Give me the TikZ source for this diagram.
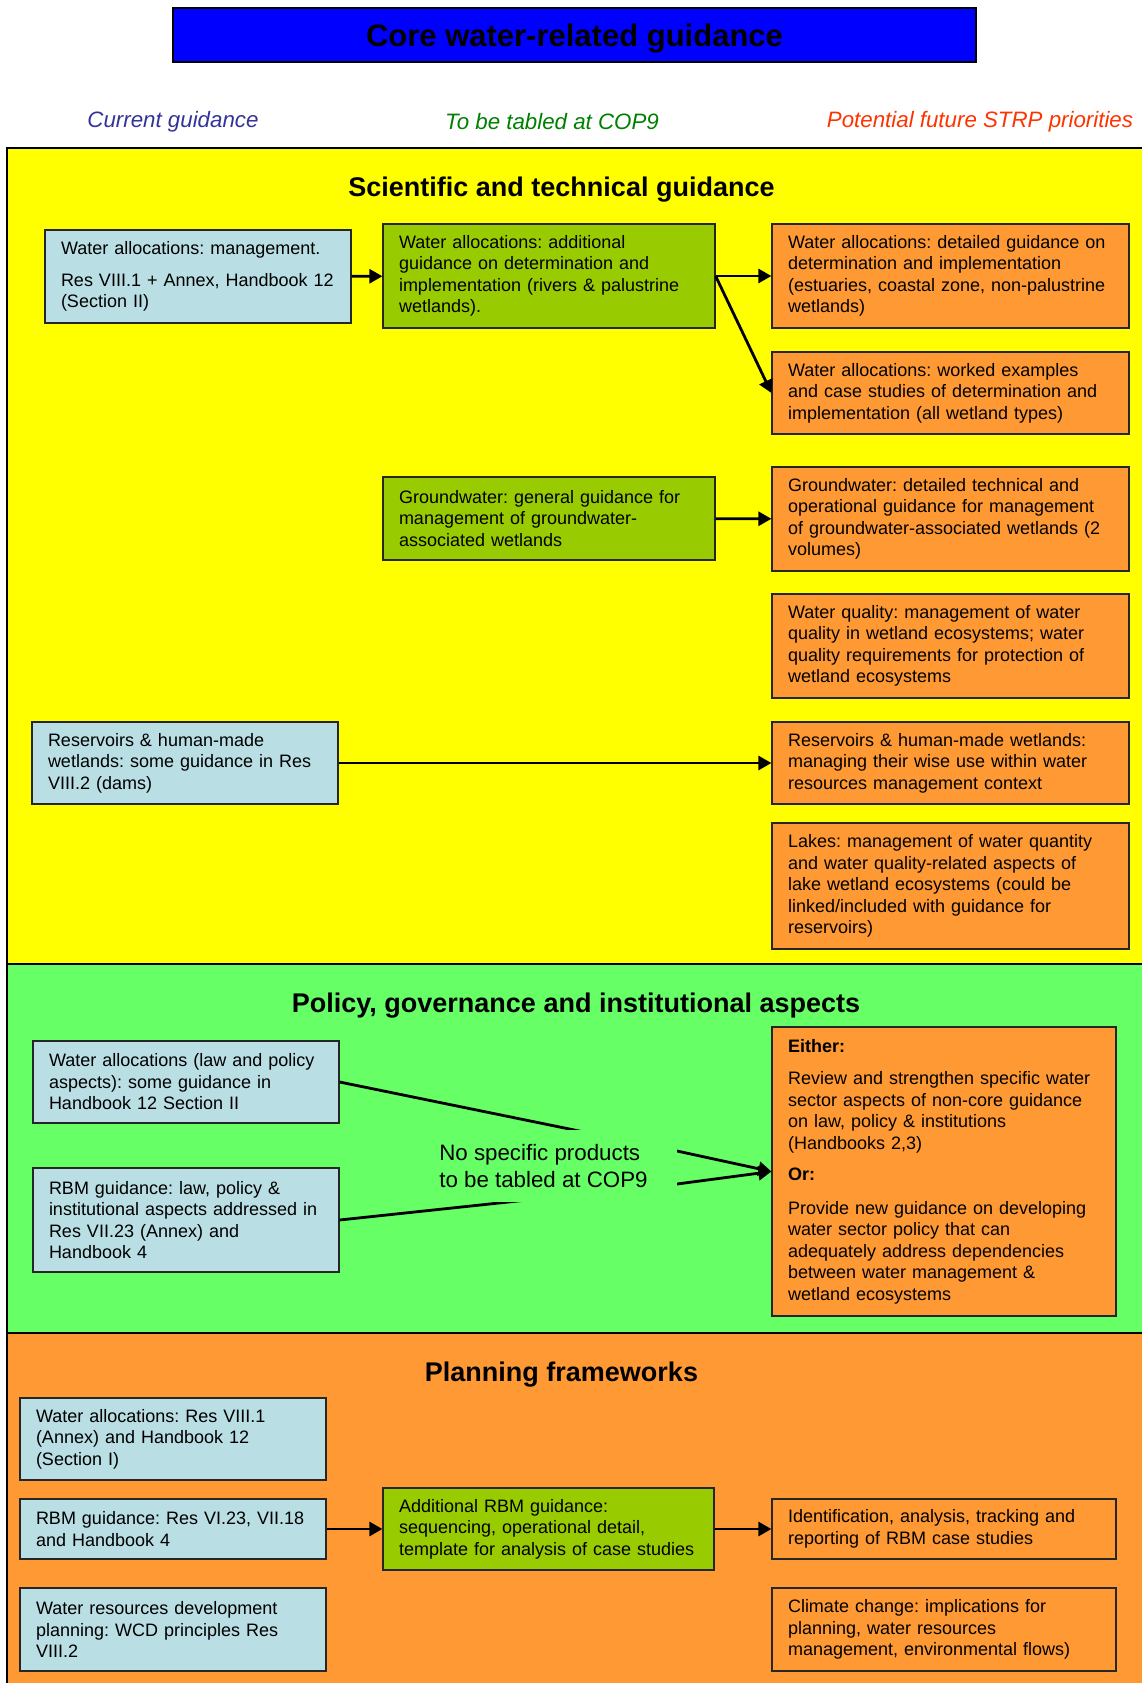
\documentclass[tikz,border=0pt]{standalone}
\usepackage{fontspec}
\setmainfont{Liberation Sans}
\usepackage{xcolor}
\usetikzlibrary{positioning,arrows.meta}
\frenchspacing

\definecolor{titleblue}{RGB}{0,0,255}
\definecolor{panelyellow}{RGB}{255,255,0}
\definecolor{panelgreen}{RGB}{102,255,102}
\definecolor{panelorange}{RGB}{255,153,51}
\definecolor{curblue}{RGB}{185,222,227}
\definecolor{copgreen}{RGB}{153,204,0}
\definecolor{futorange}{RGB}{255,153,51}
\definecolor{curtxt}{RGB}{51,51,153}
\definecolor{coptxt}{RGB}{0,128,0}
\definecolor{futtxt}{RGB}{255,51,0}

\begin{document}
\begin{tikzpicture}[
      x=1pt, y=-1pt,
      box/.style={draw=black!85, line width=1.2pt, inner xsep=16pt, inner ysep=0pt, align=left, font=\fontsize{18}{21.5}\selectfont},
      curbox/.style={box, fill=curblue, minimum width=306pt, text width=274pt},
      copbox/.style={box, fill=copgreen, minimum width=332pt, text width=300pt},
      futbox/.style={box, fill=futorange, minimum width=357pt, text width=325pt},
      panel/.style={draw=black, line width=1.8pt},
      sectitle/.style={font=\bfseries\fontsize{27}{32}\selectfont},
      coltitle/.style={font=\itshape\fontsize{22.3}{26}\selectfont},
      arr/.style={-{Triangle[length=13pt,width=14pt]}, line width=2.8pt}
  ]
    \clip (0,0) rectangle (1142,1683);
    \node[draw=black, line width=1.2pt, fill=titleblue, minimum width=803pt, minimum height=54pt, text depth=0pt, font=\bfseries\fontsize{31}{36}\selectfont] (title) at (574.5,35) {Core water-related guidance};
    \node[coltitle, text=curtxt] (colcur) at (173,121.5) {Current guidance};
    \node[coltitle, text=coptxt] (colcop) at (552,121.5) {To be tabled at COP9};
    \node[coltitle, text=futtxt] (colfut) at (980,121.5) {Potential future STRP priorities};

    \draw[panel, fill=panelyellow] (7,148) rectangle (1160,964);
    \draw[panel, fill=panelgreen] (7,964) rectangle (1160,1333);
    \draw[panel, fill=panelorange] (7,1333) rectangle (1160,1700);

    \node[sectitle] (sci) at (561.5,190) {Scientific and technical guidance};
    \node[curbox, minimum height=93pt] (cur1) at (198,276.5) {Water allocations: management.\\[10pt]Res VIII.1 + Annex, Handbook 12\\(Section II)};
    \node[copbox, minimum height=104pt] (cop1) at (549,276) {Water allocations: additional\\guidance on determination and\\implementation (rivers \& palustrine\\wetlands).};
    \node[futbox, minimum height=104pt] (fut1) at (950.5,276) {Water allocations: detailed guidance on\\determination and implementation\\(estuaries, coastal zone, non-palustrine\\wetlands)};
    \node[futbox, minimum height=82pt] (fut2) at (950.5,393) {Water allocations: worked examples\\and case studies of determination and\\implementation (all wetland types)};
    \node[copbox, minimum height=83pt] (cop2) at (549,518.5) {Groundwater: general guidance for\\management of groundwater-\\associated wetlands};
    \node[futbox, minimum height=104pt] (fut3) at (950.5,519) {Groundwater: detailed technical and\\operational guidance for management\\of groundwater-associated wetlands (2\\volumes)};
    \node[futbox, minimum height=104pt] (fut4) at (950.5,646) {Water quality: management of water\\quality in wetland ecosystems; water\\quality requirements for protection of\\wetland ecosystems};
    \node[curbox, minimum height=82pt] (cur2) at (185,763) {Reservoirs \& human-made\\wetlands: some guidance in Res\\VIII.2 (dams)};
    \node[futbox, minimum height=82pt] (fut5) at (950.5,763) {Reservoirs \& human-made wetlands:\\managing their wise use within water\\resources management context};
    \node[futbox, minimum height=126pt] (fut6) at (950.5,886) {Lakes: management of water quantity\\and water quality-related aspects of\\lake wetland ecosystems (could be\\linked/included with guidance for\\reservoirs)};
    \draw[arr] (cur1) -- (cop1);
    \draw[arr] (cop1.east) -- (fut1.west);
    \draw[arr] (cop1.east) -- (fut2.west);
    \draw[arr] (cop2) -- (fut3);
    \draw[arr] (cur2) -- (fut5);

    \node[sectitle] (pol) at (576,1006) {Policy, governance and institutional aspects};
    \node[curbox, minimum height=82pt] (cur3) at (186,1082) {Water allocations (law and policy\\aspects): some guidance in\\Handbook 12 Section II};
    \node[curbox, minimum height=104pt] (cur4) at (186,1220) {RBM guidance: law, policy \&\\institutional aspects addressed in\\Res VII.23 (Annex) and\\Handbook 4};
    \node[futbox, minimum width=344pt, text width=312pt, minimum height=289pt] (fut7) at (944,1171.5) {\textbf{Either:}\\[11pt]Review and strengthen specific water\\sector aspects of non-core guidance\\on law, policy \& institutions\\(Handbooks 2,3)\\[10pt]\textbf{Or:}\\[12pt]Provide new guidance on developing\\water sector policy that can\\adequately address dependencies\\between water management \&\\wetland ecosystems};
    \coordinate (m1) at (677,1151);
    \coordinate (m2) at (677,1184);
    \draw[arr] (cur3.east) -- (m1) -- (fut7.west);
    \draw[arr] (cur4.east) -- (m2) -- (fut7.west);
    \node[fill=panelgreen, minimum width=267pt, minimum height=72pt, align=left, font=\fontsize{22.3}{26.5}\selectfont] (nospec) at (543.5,1166) {No specific products\\to be tabled at COP9};

    \node[sectitle] (plan) at (561.5,1375) {Planning frameworks};
    \node[curbox, minimum height=82pt] (cur5) at (173,1439) {Water allocations: Res VIII.1\\(Annex) and Handbook 12\\(Section I)};
    \node[curbox, minimum height=60pt] (cur6) at (173,1529) {RBM guidance: Res VI.23, VII.18\\and Handbook 4};
    \node[curbox, minimum height=83pt] (cur7) at (173,1629.5) {Water resources development\\planning: WCD principles Res\\VIII.2};
    \node[copbox, minimum width=331pt, text width=299pt, minimum height=82pt] (cop3) at (548.5,1529) {Additional RBM guidance:\\sequencing, operational detail,\\template for analysis of case studies};
    \node[futbox, minimum width=344pt, text width=312pt, minimum height=60pt] (fut8) at (944,1529) {Identification, analysis, tracking and\\reporting of RBM case studies};
    \node[futbox, minimum width=344pt, text width=312pt, minimum height=83pt] (fut9) at (944,1629.5) {Climate change: implications for\\planning, water resources\\management, environmental flows)};
    \draw[arr] (cur6) -- (cop3);
    \draw[arr] (cop3) -- (fut8);
  \end{tikzpicture}
\end{document}
